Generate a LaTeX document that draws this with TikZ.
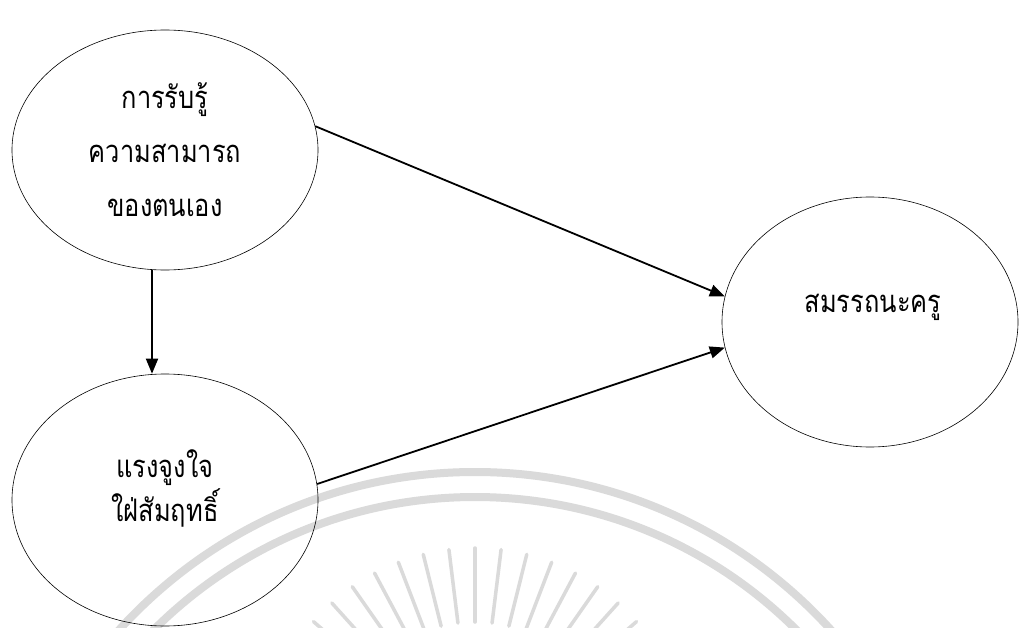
\documentclass[tikz,border=0pt]{standalone}
\usepackage{fontspec}
\newfontfamily\thaifont[Script=Thai,FakeStretch=0.82]{Loma}
\usetikzlibrary{shapes.geometric,arrows.meta,calc}
\definecolor{seal}{RGB}{218,218,218}
\tikzset{
  construct/.style={ellipse, draw=black, line width=0.6pt, inner sep=0pt},
  label text/.style={font=\thaifont\fontsize{31}{54}\selectfont, align=center, inner sep=0pt},
  path arrow/.style={line width=1.8pt, -{Triangle[length=15pt,width=12pt]}},
  seal ring/.style={draw=seal, line width=8pt},
  seal ray/.style={draw=seal, line width=3.5pt, line cap=round}
}
\begin{document}
\begin{tikzpicture}[x=1pt,y=-1pt]
  \useasboundingbox (0,0) rectangle (1019,628);
  \fill[white] (0,0) rectangle (1019,628);

  % faint seal in the background
  \begin{scope}
    \clip (0,0) rectangle (1019,628);
    \coordinate (O) at (475,952);
    \draw[seal ring] (O) circle[radius=480];
    \draw[seal ring] (O) circle[radius=455];
    \coordinate (R) at (475,762);
    \foreach \a in {-63,-56,...,63} {
      \draw[seal ray] ($(R)+(-90+\a:140)$) -- ($(R)+(-90+\a:214)$);
    }
  \end{scope}

  % constructs
  \node[construct, minimum width=306pt, minimum height=240pt] (A) at (165,150) {};
  \node[construct, minimum width=306pt, minimum height=252pt] (B) at (165,500) {};
  \node[construct, minimum width=296pt, minimum height=250pt] (C) at (870,322) {};

  \node[label text] (At) at (165,150) {การรับรู้\\ความสามารถ\\ของตนเอง};
  \node[label text, font=\thaifont\fontsize{31}{44}\selectfont] (Bt) at (165,488) {แรงจูงใจ\\ใฝ่สัมฤทธิ์};
  \node[label text] (Ct) at (873,307) {สมรรถนะครู};

  % paths
  \draw[path arrow] ([xshift=-13pt]A.south) -- ([xshift=-13pt]B.north);
  \draw[path arrow] (A.9) -- (C.170);
  \draw[path arrow] (B.6) -- (C.190);
\end{tikzpicture}
\end{document}
